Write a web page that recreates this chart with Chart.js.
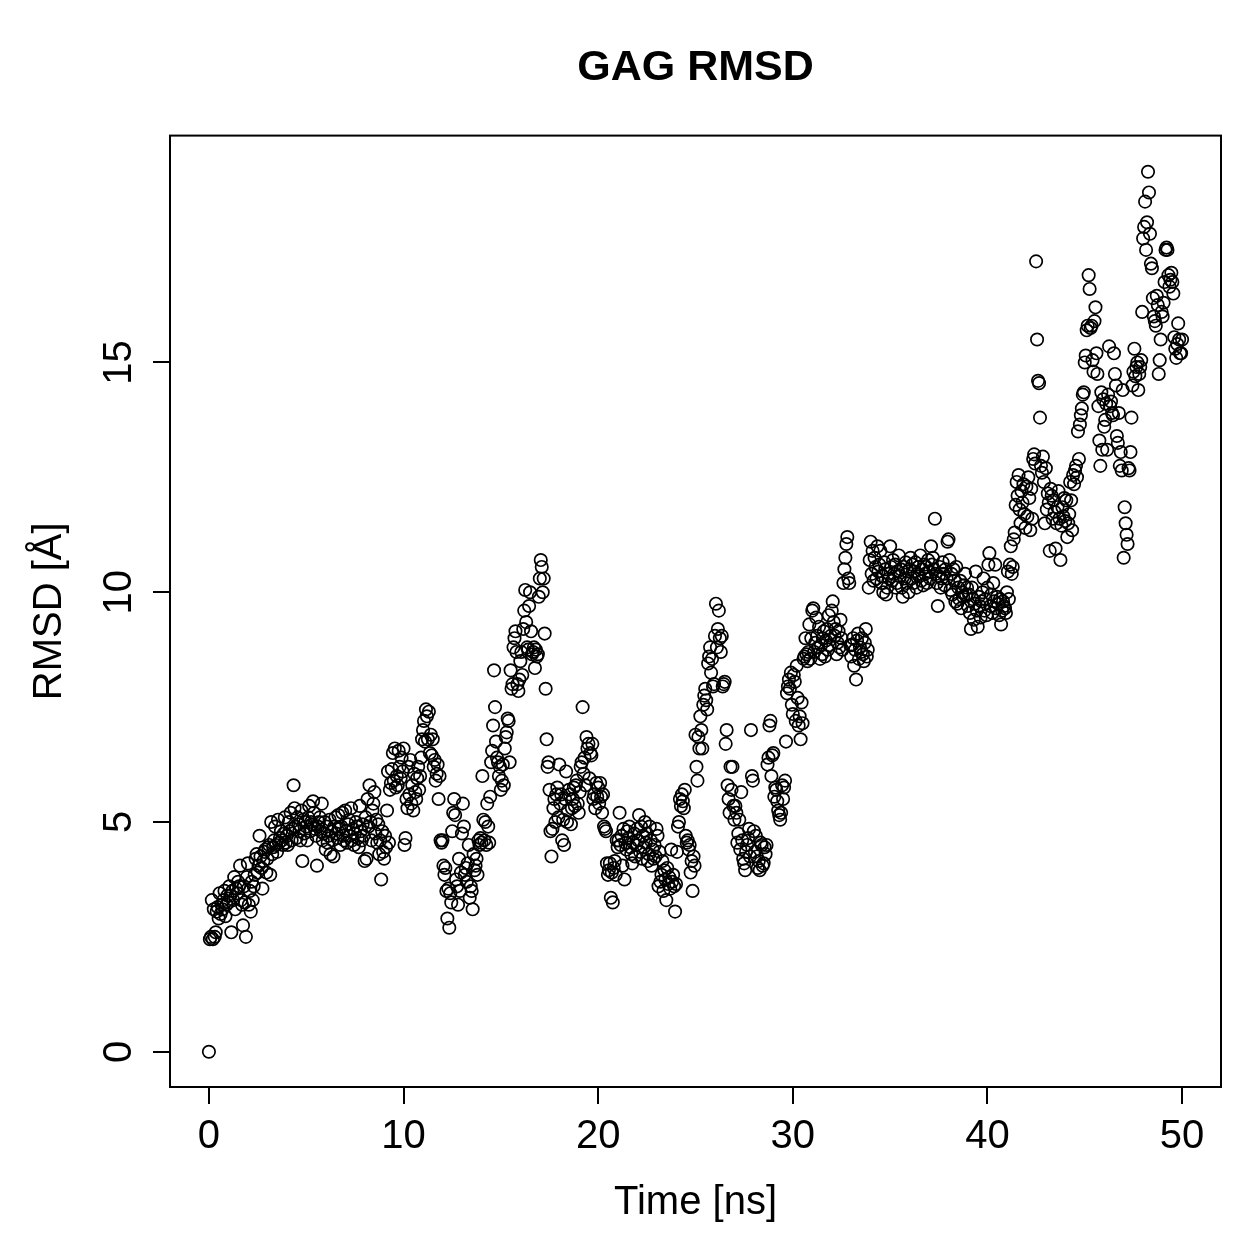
<!DOCTYPE html>
<html lang="en">
<head>
  <meta charset="UTF-8">
  <title>GAG RMSD</title>
  <style>
    html, body { margin: 0; padding: 0; background: #fff; }
    canvas { display: block; }
  </style>
</head>
<body>

<canvas id="rmsdChart" width="1259" height="1259"></canvas>

<script src="https://cdn.jsdelivr.net/npm/chart.js"></script>
<script>
const chartTitle = 'GAG RMSD';
const xLabel = 'Time [ns]';
const yLabel = 'RMSD [Å]';
const xTicks = [0, 10, 20, 30, 40, 50];
const yTicks = [0, 5, 10, 15];
const startTime = 0;     // ns
const timeStep = 0.05;   // ns between frames

// RMSD per frame, one row per ns (20 frames)
const rmsd = [
  0, 2.45, 2.5, 3.3, 2.45, 3.1, 2.5, 2.6, 3.05, 3.15, 2.9, 3.45, 3.0, 3.2, 3.1, 3.3, 3.5, 2.95, 3.2, 3.4,
  3.25, 3.6, 3.4, 2.6, 3.5, 3.3, 3.8, 3.1, 3.55, 3.45, 3.7, 3.6, 4.05, 3.3, 3.2, 2.75, 3.6, 3.25, 2.5, 3.8,
  4.1, 3.2, 3.5, 3.05, 3.7, 3.3, 3.6, 3.85, 4.2, 4.3, 3.9, 4.05, 4.7, 4.25, 4.0, 3.55, 4.15, 4.35, 4.4, 3.9,
  4.2, 4.45, 4.5, 3.85, 5.0, 4.3, 4.45, 4.6, 4.9, 4.5, 4.35, 5.05, 4.55, 4.65, 4.8, 4.6, 4.5, 4.75, 5.1, 4.55,
  4.7, 4.5, 5.0, 4.8, 5.2, 4.6, 4.85, 5.8, 5.3, 4.9, 4.65, 5.1, 4.95, 4.8, 4.6, 5.25, 4.15, 5.05, 4.75, 5.0,
  4.9, 4.6, 5.1, 5.35, 4.8, 5.0, 4.95, 5.45, 5.2, 4.85, 4.7, 4.05, 4.9, 5.0, 5.1, 4.8, 5.4, 4.6, 4.75, 5.0,
  4.4, 4.9, 4.55, 4.7, 5.05, 4.3, 4.8, 4.6, 4.25, 4.9, 5.1, 4.75, 4.65, 5.15, 4.85, 4.5, 4.9, 5.2, 4.7, 4.6,
  5.25, 4.8, 4.55, 4.95, 5.05, 4.7, 5.3, 4.6, 4.85, 4.5, 4.75, 5.0, 4.9, 4.65, 4.45, 5.35, 4.8, 4.6, 4.95, 4.7,
  4.15, 5.1, 4.2, 5.5, 4.9, 5.8, 5.0, 4.6, 5.25, 5.4, 5.65, 4.75, 5.05, 4.55, 4.95, 4.3, 4.6, 3.75, 4.8, 4.35,
  4.2, 4.7, 4.45, 5.25, 6.1, 4.55, 5.7, 5.85, 6.15, 6.5, 5.9, 6.6, 5.75, 6.0, 5.8, 6.55, 6.2, 5.95, 6.4, 6.1,
  6.6, 4.5, 4.65, 5.5, 5.3, 6.2, 5.6, 6.35, 5.4, 5.8, 5.25, 6.05, 5.65, 5.5, 5.95, 6.2, 5.7, 6.0, 6.4, 6.8,
  7.0, 7.2, 6.75, 7.45, 7.3, 6.8, 7.4, 6.5, 6.9, 6.45, 6.8, 6.2, 6.35, 5.9, 6.05, 6.25, 5.5, 6.0, 4.6, 4.55,
  4.6, 4.05, 3.85, 4.0, 3.5, 2.9, 3.55, 2.7, 3.45, 3.25, 4.8, 5.2, 5.5, 5.15, 3.75, 3.6, 3.2, 4.2, 3.5, 3.9,
  4.75, 5.4, 4.9, 3.85, 4.0, 3.7, 4.1, 4.5, 3.35, 3.6, 3.5, 3.1, 4.3, 3.95, 4.05, 4.2, 3.85, 4.6, 4.5, 4.65,
  4.55, 6.0, 5.05, 4.6, 5.0, 4.5, 5.4, 4.9, 4.55, 5.55, 6.3, 6.55, 7.1, 8.3, 7.5, 6.75, 6.4, 6.3, 6.0, 6.2,
  5.7, 5.9, 6.25, 5.8, 6.6, 6.85, 6.95, 7.25, 7.2, 6.3, 8.3, 7.9, 8.0, 8.8, 9.0, 9.15, 8.7, 8.0, 7.85, 8.1,
  8.5, 8.7, 8.2, 9.2, 9.6, 10.05, 9.35, 8.8, 8.75, 9.7, 10.0, 9.15, 8.65, 8.7, 8.8, 8.35, 8.75, 8.6, 8.65, 9.9,
  10.3, 10.7, 10.55, 10.0, 10.3, 9.1, 7.9, 6.8, 6.2, 6.3, 5.7, 4.8, 4.25, 4.85, 5.3, 5.5, 5.0, 5.6, 5.75, 5.1,
  6.25, 5.4, 5.6, 4.6, 5.05, 4.5, 5.5, 6.1, 5.0, 5.25, 5.7, 5.6, 4.95, 5.3, 5.5, 5.75, 5.35, 5.8, 5.9, 5.4,
  5.2, 5.65, 6.2, 6.3, 7.5, 6.05, 6.4, 5.8, 6.85, 6.6, 6.7, 5.95, 6.5, 6.45, 6.7, 5.5, 5.6, 5.3, 5.85, 5.55,
  5.75, 5.4, 5.85, 5.55, 5.2, 5.6, 4.9, 4.85, 4.8, 4.1, 3.85, 3.95, 4.1, 3.35, 3.9, 3.25, 4.0, 4.15, 3.85, 4.6,
  4.45, 4.6, 5.2, 4.5, 4.7, 4.05, 4.85, 3.75, 4.55, 4.4, 4.8, 4.65, 4.9, 4.45, 4.3, 4.1, 4.55, 4.75, 4.25, 4.5,
  4.85, 4.6, 5.15, 4.35, 4.9, 4.2, 4.7, 4.45, 5.0, 4.55, 4.75, 4.15, 4.3, 4.9, 4.6, 4.05, 4.4, 4.2, 4.5, 4.25,
  4.85, 4.7, 3.6, 4.35, 3.7, 3.85, 4.15, 3.5, 3.95, 3.75, 3.3, 4.0, 3.65, 3.8, 3.55, 4.4, 3.7, 3.85, 3.6, 3.05,
  3.65, 4.35, 4.9, 5.0, 5.5, 5.35, 5.6, 5.45, 5.3, 5.7, 4.7, 4.55, 4.6, 4.4, 4.5, 3.9, 4.15, 3.5, 4.25, 4.05,
  6.9, 6.2, 5.9, 6.85, 6.6, 7.3, 7.0, 6.6, 7.55, 7.75, 7.9, 7.65, 7.45, 8.45, 8.6, 8.8, 8.25, 8.55, 7.95, 8.0,
  9.05, 9.75, 8.8, 9.2, 9.6, 9.0, 8.7, 9.05, 7.95, 8.0, 8.05, 6.7, 7.0, 5.8, 5.5, 5.2, 6.2, 5.7, 6.2, 5.35,
  5.05, 5.35, 5.2, 4.55, 4.75, 5.05, 4.4, 5.65, 4.6, 4.2, 4.1, 3.95, 4.35, 4.5, 4.65, 4.85, 4.25, 7.0, 6.0, 5.9,
  4.8, 4.35, 4.7, 4.25, 4.0, 4.15, 3.95, 4.55, 4.5, 4.05, 4.1, 4.45, 4.3, 4.5, 6.25, 6.4, 7.1, 7.2, 6.0, 6.45,
  6.5, 5.55, 5.75, 5.7, 5.45, 5.25, 5.15, 5.05, 5.2, 5.8, 5.5, 5.75, 5.9, 6.75, 7.8, 7.95, 8.1, 7.9, 8.25, 7.55,
  7.35, 8.2, 8.05, 7.2, 8.4, 7.7, 7.1, 7.3, 6.8, 7.6, 7.15, 8.55, 8.6, 9.0, 8.65, 8.5, 8.7, 9.3, 8.55, 9.0,
  9.6, 9.65, 8.7, 8.9, 9.45, 9.05, 8.8, 9.25, 8.55, 8.85, 8.65, 9.0, 9.15, 8.6, 8.95, 9.2, 8.75, 9.5, 8.85, 9.05,
  9.6, 9.8, 9.35, 9.05, 9.2, 8.65, 8.9, 9.15, 8.8, 9.4, 9.0, 8.75, 10.2, 10.5, 10.75, 11.05, 11.2, 10.3, 10.2, 8.85,
  8.6, 8.85, 9.0, 8.4, 8.75, 8.1, 8.95, 9.1, 8.55, 8.8, 8.7, 9.0, 8.65, 8.5, 8.9, 9.2, 8.6, 8.75, 10.1, 10.7,
  11.1, 10.4, 10.9, 10.25, 10.75, 10.55, 10.3, 11.0, 10.45, 10.6, 10.9, 10.2, 10.35, 10.0, 10.65, 10.5, 9.95, 10.1, 10.4, 10.3,
  11.0, 10.55, 10.25, 10.7, 10.4, 10.6, 10.1, 10.2, 10.45, 10.8, 10.35, 10.5, 10.1, 9.9, 10.55, 10.3, 10.65, 10.2, 10.45, 10.0,
  10.5, 10.75, 10.3, 10.6, 10.2, 10.45, 10.65, 10.1, 10.4, 10.55, 10.35, 10.8, 10.25, 10.5, 10.15, 10.6, 10.4, 10.55, 10.2, 10.7,
  10.45, 10.3, 11.0, 10.6, 10.75, 10.5, 11.6, 10.4, 10.2, 9.7, 10.35, 10.55, 10.1, 10.3, 10.65, 10.4, 10.15, 10.5, 10.3, 11.1,
  11.15, 10.7, 10.05, 10.4, 9.95, 10.5, 10.25, 9.8, 10.55, 9.75, 10.1, 9.85, 10.25, 9.65, 10.0, 9.9, 10.15, 10.4, 9.95, 10.1,
  9.7, 9.95, 9.55, 9.2, 10.1, 9.85, 9.4, 9.75, 10.45, 9.6, 9.25, 9.9, 9.7, 9.45, 9.8, 10.0, 10.3, 9.6, 9.85, 9.5,
  10.1, 10.6, 10.85, 9.7, 9.95, 9.55, 10.2, 9.8, 10.6, 9.65, 9.9, 9.75, 9.5, 9.85, 9.3, 9.6, 9.8, 9.7, 9.65, 9.55,
  10.0, 10.45, 9.85, 10.6, 11.0, 10.4, 10.55, 11.15, 11.3, 11.9, 12.4, 12.1, 12.55, 11.8, 11.5, 12.2, 11.95, 12.35, 11.7, 11.4,
  12.3, 11.65, 12.5, 12.05, 11.35, 12.25, 11.6, 12.9, 13.0, 12.8, 17.2, 15.5, 14.6, 14.55, 13.8, 12.75, 12.6, 12.95, 12.4, 11.5,
  12.7, 11.8, 12.15, 11.95, 10.9, 12.25, 12.1, 11.6, 12.0, 11.75, 10.95, 11.5, 11.85, 12.2, 11.6, 10.7, 11.45, 11.85, 11.65, 12.05,
  11.55, 12.0, 11.2, 11.5, 11.7, 12.4, 12.0, 11.35, 12.55, 12.35, 12.65, 12.75, 12.5, 13.5, 12.9, 13.65, 13.85, 14.0, 14.3, 14.35,
  15.0, 15.15, 15.7, 15.8, 16.9, 16.6, 15.75, 15.8, 15.05, 14.8, 15.9, 16.2, 15.2, 14.75, 14.05, 13.3, 12.75, 14.35, 13.1, 14.2,
  13.6, 13.75, 14.1, 13.1, 14.3, 15.35, 14.05, 14.15, 13.9, 13.85, 15.2, 14.75, 14.5, 13.4, 13.25, 13.9, 12.75, 13.05, 12.65, 14.4,
  10.75, 11.85, 11.5, 11.25, 11.05, 12.7, 12.65, 13.05, 13.8, 14.5, 14.8, 15.3, 14.7, 14.9, 15.0, 14.4, 14.75, 14.9, 15.05, 16.1,
  17.7, 17.95, 18.5, 17.45, 18.05, 19.15, 18.7, 17.8, 17.15, 17.05, 16.4, 16.0, 15.9, 15.8, 16.45, 16.25, 14.75, 15.05, 15.5, 16.1,
  16.0, 16.3, 16.75, 17.45, 17.5, 17.45, 16.9, 16.65, 16.8, 16.95, 16.75, 16.5, 15.55, 15.3, 15.1, 15.4, 15.85, 15.5, 15.2, 15.2,
  15.5
];

const points = rmsd.map((v, i) => ({ x: startTime + i * timeStep, y: v }));

// R style 4% padding around the data range
const xMin = -2, xMax = 52;
const yMin = -0.767, yMax = 19.937;

const fontFamily = '"Liberation Sans", Arial, Helvetica, sans-serif';
const labelSize = 40;

// box round the plot + vertical y tick labels (R draws them rotated)
const framePlugin = {
  id: 'frame',
  afterDraw(chart) {
    const { ctx, chartArea: a, scales } = chart;
    ctx.save();
    ctx.strokeStyle = '#000';
    ctx.lineWidth = 2;
    ctx.strokeRect(a.left, a.top, a.right - a.left, a.bottom - a.top);

    ctx.fillStyle = '#000';
    ctx.font = labelSize + 'px ' + fontFamily;
    ctx.textAlign = 'center';
    ctx.textBaseline = 'middle';
    yTicks.forEach(t => {
      const py = scales.y.getPixelForValue(t);
      ctx.save();
      ctx.translate(120, py);
      ctx.rotate(-Math.PI / 2);
      ctx.fillText(String(t), 0, 0);
      ctx.restore();
    });
    ctx.restore();
  }
};

new Chart(document.getElementById('rmsdChart'), {
  type: 'scatter',
  data: {
    datasets: [{
      label: 'RMSD',
      data: points,
      pointStyle: 'circle',
      pointRadius: 6.2,
      pointBorderWidth: 1.7,
      pointBorderColor: '#000',
      pointBackgroundColor: 'rgba(0,0,0,0)'
    }]
  },
  options: {
    responsive: false,
    animation: false,
    devicePixelRatio: 1,
    layout: { padding: { top: 0, left: 0, right: 38, bottom: 0 } },
    plugins: {
      legend: { display: false },
      tooltip: { enabled: false },
      title: {
        display: true,
        fullSize: false,
        text: chartTitle,
        color: '#000',
        font: { family: fontFamily, size: 43, weight: 'bold', lineHeight: 1.2 },
        padding: { top: 42, bottom: 42 }
      }
    },
    scales: {
      x: {
        type: 'linear',
        min: xMin,
        max: xMax,
        afterBuildTicks: s => { s.ticks = xTicks.map(v => ({ value: v })); },
        afterFit: s => { s.height = 172; },
        border: { display: false },
        grid: { drawOnChartArea: false, drawTicks: true, tickLength: 17, color: '#000', lineWidth: 2 },
        ticks: {
          color: '#000',
          font: { family: fontFamily, size: labelSize },
          padding: 9,
          maxRotation: 0,
          autoSkip: false
        },
        title: {
          display: true,
          text: xLabel,
          color: '#000',
          font: { family: fontFamily, size: labelSize, lineHeight: 1.2 },
          padding: { top: 0, bottom: 32 }
        }
      },
      y: {
        type: 'linear',
        min: yMin,
        max: yMax,
        afterBuildTicks: s => { s.ticks = yTicks.map(v => ({ value: v })); },
        afterFit: s => { s.width = 170; },
        border: { display: false },
        grid: { drawOnChartArea: false, drawTicks: true, tickLength: 17, color: '#000', lineWidth: 2 },
        ticks: { display: false },
        title: {
          display: true,
          text: yLabel,
          color: '#000',
          font: { family: fontFamily, size: labelSize, lineHeight: 1.2 },
          padding: { top: 26, bottom: 0 }
        }
      }
    }
  },
  plugins: [framePlugin]
});
</script>

</body>
</html>
